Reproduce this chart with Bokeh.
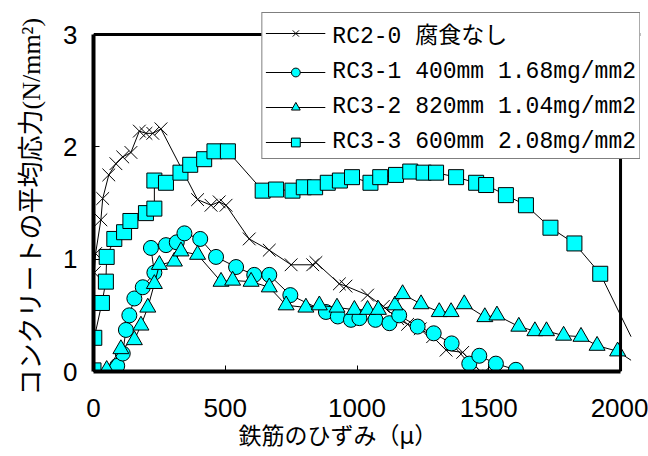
from bokeh.plotting import figure
from bokeh.models import Range1d, FixedTicker, Span, Title
from bokeh.embed import file_html
from bokeh.resources import INLINE

# ---- data ----
rc20_x = [0, 0, 3, 8, 28, 35, 58, 85, 111, 142, 174, 199, 225, 256, 395, 446, 477, 503,
          591, 667, 750, 832, 844, 933, 958, 1040, 1100, 1154, 1192, 1240, 1287, 1338,
          1401, 1477, 1502, 1540]
rc20_y = [0, 0.62, 0.88, 1.05, 1.35, 1.54, 1.75, 1.85, 1.91, 1.95, 2.14, 2.12, 2.12, 2.16,
          1.53, 1.48, 1.51, 1.48, 1.18, 1.08, 0.95, 0.95, 0.97, 0.78, 0.76, 0.68, 0.58,
          0.47, 0.42, 0.38, 0.31, 0.19, 0.17, -0.02, -0.04, -0.07]

rc31_x = [90, 111, 123, 136, 155, 187, 231, 218, 275, 316, 345, 405, 465, 541, 610, 667,
          747, 882, 927, 977, 1009, 1070, 1123, 1160, 1230, 1291, 1359, 1426, 1464, 1527,
          1603, 1686]
rc31_y = [0.05, 0.16, 0.37, 0.50, 0.65, 0.75, 0.88, 1.10, 1.125, 1.15, 1.23, 1.18, 1.02,
          0.93, 0.86, 0.86, 0.68, 0.53, 0.49, 0.46, 0.475, 0.46, 0.43, 0.50, 0.40, 0.34,
          0.25, 0.07, 0.14, 0.07, 0.015, -0.07]

rc32_x = [50, 104, 155, 180, 206, 231, 250, 307, 332, 395, 484, 528, 598, 667, 731, 806,
          857, 924, 990, 1040, 1081, 1144, 1173, 1243, 1312, 1357, 1407, 1485, 1531, 1614,
          1675, 1719, 1784, 1850, 1911, 1989, 2040]
rc32_y = [0.015, 0.20, 0.28, 0.41, 0.57, 0.78, 0.95, 0.98, 1.07, 1.04, 0.80, 0.81, 0.80,
          0.75, 0.59, 0.57, 0.59, 0.57, 0.55, 0.55, 0.55, 0.59, 0.69, 0.60, 0.53, 0.53,
          0.60, 0.485, 0.50, 0.40, 0.36, 0.36, 0.32, 0.31, 0.23, 0.18, 0.10]

rc33_x = [0, 3, 32, 47, 50, 79, 116, 140, 199, 231, 231, 275, 330, 367, 420, 459, 510,
          642, 693, 755, 798, 841, 889, 935, 981, 1051, 1088, 1148, 1202, 1253, 1300, 1376,
          1452, 1490, 1565, 1641, 1734, 1825, 1923, 2040]
rc33_y = [0.01, 0.30, 0.61, 0.80, 1.02, 1.18, 1.24, 1.34, 1.41, 1.45, 1.70, 1.68, 1.77,
          1.84, 1.89, 1.96, 1.96, 1.61, 1.62, 1.61, 1.64, 1.64, 1.68, 1.70, 1.73, 1.68,
          1.73, 1.75, 1.78, 1.77, 1.77, 1.73, 1.68, 1.66, 1.57, 1.48, 1.28, 1.14, 0.87, 0.31]

labels = ["RC2-0 腐食なし", "RC3-1 400mm 1.68mg/mm2",
          "RC3-2 820mm 1.04mg/mm2", "RC3-3 600mm 2.08mg/mm2"]
x_ticks = [0, 500, 1000, 1500, 2000]
y_ticks = [0, 1, 2, 3]
x_max, y_max = 2000, 3
x_title = "鉄筋のひずみ（μ）"
y_title = "コンクリートの平均応力(N/mm²)"

# frame extends beyond the plotted box (legend overlaps top-right corner as in the original)
FRAME_W, FRAME_H = 548, 359
BOX_W, BOX_H = 528, 337

p = figure(width=648, height=456,
           x_range=Range1d(0, x_max * FRAME_W / BOX_W),
           y_range=Range1d(0, y_max * FRAME_H / BOX_H),
           output_backend="svg", toolbar_location=None,
           min_border_left=92, min_border_right=8, min_border_top=12, min_border_bottom=85)
p.grid.visible = False
p.outline_line_color = None

# top and right edges of the plot box
p.add_layout(Span(location=y_max, dimension="width", line_color="black", line_width=3))
p.add_layout(Span(location=x_max, dimension="height", line_color="black", line_width=3))

for ax, ticks, bnd in ((p.xaxis, x_ticks, (0, x_max)), (p.yaxis, y_ticks, (0, y_max))):
    ax.ticker = FixedTicker(ticks=ticks)
    ax.bounds = bnd
    ax.major_tick_in = 6
    ax.major_tick_out = 0
    ax.minor_tick_in = 0
    ax.minor_tick_out = 0
    ax.axis_line_width = 4
    ax.axis_line_color = "black"
    ax.major_tick_line_width = 1
    ax.major_label_text_font = "Liberation Sans"
    ax.major_label_text_font_size = "26px"
    ax.major_label_text_color = "black"

p.xaxis.major_label_standoff = 27
p.yaxis.major_label_standoff = 16

p.add_layout(Title(text=x_title, align="left", offset=145, standoff=3,
                   text_font="'DejaVu Sans', 'Noto Sans CJK JP'", text_font_size="23px",
                   text_font_style="normal", text_color="black"), "below")
p.add_layout(Title(text=y_title, align="left", offset=-24, standoff=29,
                   text_font="'Liberation Serif', 'Noto Sans CJK JP'", text_font_size="26px",
                   text_font_style="normal", text_color="black"), "left")

series = [
    (rc20_x, rc20_y, "x", 18, labels[0]),
    (rc31_x, rc31_y, "circle", 15, labels[1]),
    (rc32_x, rc32_y, "triangle", 16, labels[2]),
    (rc33_x, rc33_y, "square", 15, labels[3]),
]
for xs, ys, marker, size, lab in series:
    p.line(xs, ys, line_color="black", line_width=1, legend_label=lab)
    # markers only inside the plotted box (lines run on past it, as in the original)
    mx = [x for x, y in zip(xs, ys) if x <= x_max]
    my = [y for x, y in zip(xs, ys) if x <= x_max]
    if marker == "x":
        p.scatter(mx, my, marker="x", size=size, line_color="black", line_width=1,
                  legend_label=lab)
    else:
        p.scatter(mx, my, marker=marker, size=size, fill_color="#00FFFF",
                  line_color="black", line_width=1, legend_label=lab)

lg = p.legend[0]
lg.location = "top_right"
lg.border_line_color = "black"
lg.border_line_width = 1
lg.background_fill_color = "white"
lg.background_fill_alpha = 1
lg.label_text_font = "'Liberation Mono', 'Noto Sans CJK JP'"
lg.label_text_font_size = "23px"
lg.label_text_color = "black"
lg.glyph_width = 60
lg.glyph_height = 22
lg.label_height = 26
lg.spacing = 9
lg.padding = 3
lg.margin = 0
lg.label_standoff = 7

open("out.html", "w").write(file_html(p, INLINE))
